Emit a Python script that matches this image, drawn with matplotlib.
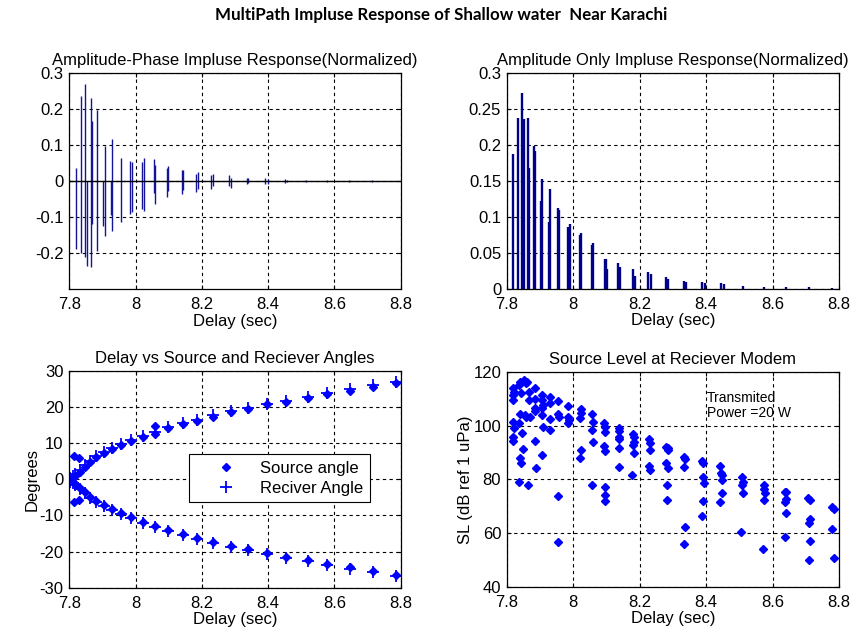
import numpy as np
import matplotlib
matplotlib.use('Agg')
import matplotlib.pyplot as plt

plt.rcParams['font.family'] = ['Liberation Sans', 'DejaVu Sans']
plt.rcParams['axes.unicode_minus'] = False

# Amplitude-phase impulse response: stem tops (positive / negative lobes)
ap_delay = [7.820, 7.836, 7.847, 7.852, 7.864, 7.867, 7.883, 7.903, 7.907, 7.926,
            7.929, 7.956, 7.984, 7.988, 8.020, 8.024, 8.055, 8.060, 8.094, 8.099,
            8.139, 8.142, 8.181, 8.187, 8.227, 8.234, 8.282, 8.288, 8.337, 8.340,
            8.392, 8.399, 8.452, 8.456, 8.513, 8.577, 8.645, 8.713]
ap_pos = [0.037, 0.238, 0.271, 0.0, 0.232, 0.167, 0.198, 0.0, 0.097, 0.0,
          0.116, 0.064, 0.055, 0.053, 0.052, 0.064, 0.061, 0.046, 0.037, 0.043,
          0.030, 0.031, 0.019, 0.025, 0.016, 0.021, 0.016, 0.010, 0.009, 0.008,
          0.009, 0.006, 0.006, 0.004, 0.004, 0.003, 0.003, 0.003]
ap_neg = [-0.190, -0.199, -0.210, -0.237, -0.239, -0.118, -0.194, -0.124, -0.153, -0.093,
          -0.139, -0.114, -0.090, -0.086, -0.078, -0.082, -0.032, -0.063, -0.044, -0.028,
          -0.037, -0.024, -0.029, -0.021, -0.021, -0.014, -0.014, -0.018, -0.009, -0.006,
          -0.009, -0.009, -0.004, -0.003, -0.002, -0.002, -0.002, -0.002]

# Amplitude only impulse response
ao_delay = [7.820, 7.835, 7.847, 7.851, 7.863, 7.866, 7.883, 7.886, 7.902, 7.906,
            7.926, 7.929, 7.953, 7.956, 7.985, 7.989, 8.020, 8.024, 8.056, 8.059,
            8.095, 8.099, 8.101, 8.136, 8.140, 8.179, 8.186, 8.226, 8.233, 8.278,
            8.286, 8.333, 8.339, 8.389, 8.397, 8.445, 8.454, 8.511, 8.574, 8.641,
            8.711, 8.780]
ao_amp = [0.188, 0.237, 0.272, 0.236, 0.237, 0.168, 0.199, 0.192, 0.122, 0.152,
          0.093, 0.138, 0.112, 0.110, 0.086, 0.090, 0.074, 0.078, 0.061, 0.063,
          0.042, 0.041, 0.028, 0.036, 0.030, 0.027, 0.018, 0.023, 0.020, 0.016,
          0.014, 0.011, 0.010, 0.009, 0.008, 0.0074, 0.006, 0.004, 0.003, 0.0025,
          0.0025, 0.0012]

# Source / receiver angles per arrival cluster
ang_delay = [7.803, 7.810, 7.818, 7.832, 7.847, 7.862, 7.882, 7.906, 7.928, 7.956,
             7.986, 8.022, 8.059, 8.097, 8.142, 8.184, 8.235, 8.287, 8.339, 8.396,
             8.455, 8.520, 8.579, 8.647, 8.716, 8.787]
src_up = [0.2, 0.6, 1.0, 2.1, 3.5, 4.9, 6.3, 7.2, 8.3, 9.5,
          10.6, 11.6, 12.6, 14.1, 15.2, 16.2, 17.4, 18.6, 19.5, 20.8,
          21.5, 22.4, 23.5, 24.6, 25.7, 26.6]
rcv_up = [0.5, 0.9, 1.4, 2.5, 3.9, 5.2, 6.6, 7.5, 8.6, 9.8,
          10.9, 12.0, 13.0, 14.4, 15.5, 16.5, 17.7, 18.9, 19.8, 21.0,
          21.8, 22.7, 23.8, 24.9, 26.0, 26.9]
src_dn = [-0.3, -0.7, -1.2, -2.4, -3.6, -4.8, -5.9, -7.1, -8.2, -9.4,
          -10.5, -11.7, -12.8, -14.0, -15.0, -16.3, -17.3, -18.4, -19.4, -20.5,
          -21.6, -22.3, -23.4, -24.4, -25.3, -26.5]
rcv_dn = [-0.6, -1.0, -1.5, -2.7, -3.9, -5.1, -6.2, -7.4, -8.5, -9.7,
          -10.8, -12.0, -13.1, -14.3, -15.3, -16.6, -17.6, -18.7, -19.7, -20.8,
          -21.9, -22.6, -23.7, -24.7, -25.6, -26.8]
src_extra_delay = [7.815, 7.830, 7.815, 7.830, 8.059]
src_extra_angle = [6.4, 5.8, -6.2, -5.8, 14.9]

# Source level at receiver
sl_delay = [7.818, 7.822, 7.820, 7.818, 7.819, 7.822, 7.820, 7.820,
            7.840, 7.838, 7.842, 7.840, 7.838, 7.840, 7.842, 7.838, 7.847, 7.850,
            7.853, 7.857, 7.860, 7.855, 7.865, 7.858,
            7.867, 7.868, 7.870,
            7.884, 7.886, 7.885, 7.886, 7.885, 7.887,
            7.906, 7.907, 7.908, 7.906, 7.907, 7.908, 7.906,
            7.930, 7.931, 7.930, 7.931,
            7.955, 7.955, 7.956, 7.955, 7.953,
            7.984, 7.985, 7.986, 7.985,
            8.023, 8.024, 8.022, 8.025, 8.022,
            8.058, 8.059, 8.058, 8.059, 8.058,
            8.093, 8.095, 8.096, 8.094, 8.095, 8.095, 8.095, 8.095,
            8.137, 8.139, 8.138, 8.137, 8.139, 8.137,
            8.180, 8.183, 8.182, 8.181, 8.184, 8.178,
            8.227, 8.230, 8.231, 8.228, 8.230,
            8.280, 8.284, 8.286, 8.278, 8.285, 8.281, 8.283,
            8.333, 8.336, 8.335, 8.337, 8.333,
            8.388, 8.392, 8.390, 8.393, 8.390, 8.389,
            8.443, 8.445, 8.447, 8.448, 8.447, 8.443,
            8.507, 8.510, 8.509, 8.511, 8.506,
            8.574, 8.575, 8.576, 8.574, 8.570,
            8.637, 8.641, 8.640, 8.639, 8.640, 8.636,
            8.708, 8.713, 8.714, 8.709, 8.712, 8.709,
            8.780, 8.785, 8.779, 8.786]
sl_db = [113.9, 112.7, 111.4, 109.6, 101.5, 99.0, 95.9, 94.3,
         116.4, 115.2, 112.3, 104.3, 100.9, 87.8, 86.2, 79.1, 97.1, 91.3,
         117.0, 115.8, 116.2, 104.0, 77.9, 103.2,
         112.7, 109.6, 103.4,
         113.9, 109.8, 106.5, 105.6, 94.3, 84.1,
         111.4, 109.6, 107.7, 106.5, 104.0, 99.6, 89.1,
         110.8, 108.6, 102.4, 98.4,
         109.3, 104.3, 103.4, 73.8, 56.8,
         107.3, 103.4, 102.1, 100.9,
         106.1, 104.6, 102.7, 90.9, 87.8,
         104.3, 101.5, 98.4, 94.0, 77.9,
         101.1, 99.6, 97.8, 92.4, 90.7, 77.0, 74.0, 71.9,
         99.0, 98.1, 95.9, 94.9, 91.8, 84.7,
         96.8, 95.8, 94.0, 92.8, 89.7, 81.6,
         94.9, 93.7, 90.9, 85.0, 83.5,
         91.9, 90.9, 91.5, 86.2, 84.1, 77.9, 72.3,
         88.4, 87.6, 84.5, 62.4, 55.9,
         87.0, 86.2, 80.7, 78.5, 72.0, 66.5,
         85.0, 82.2, 81.5, 79.8, 74.8, 71.4,
         80.7, 79.1, 77.9, 74.8, 60.5,
         77.9, 76.3, 74.8, 72.3, 53.9,
         75.4, 75.4, 72.5, 71.7, 67.3, 58.6,
         72.9, 72.3, 65.2, 63.6, 57.1, 49.9,
         69.8, 68.9, 61.5, 50.7]

FS = 12
grid_kw = dict(color='black', linestyle=(0, (3, 3)), linewidth=0.8)


def style_axis(ax):
    ax.set_xlim(7.8, 8.8)
    ax.set_xticks([7.8, 8.0, 8.2, 8.4, 8.6, 8.8])
    ax.set_xticklabels(['7.8', '8', '8.2', '8.4', '8.6', '8.8'])
    ax.grid(True, **grid_kw)
    ax.set_axisbelow(True)
    ax.tick_params(direction='in', top=True, right=True, length=3,
                   labelsize=FS, pad=4, width=0.8)
    ax.tick_params(axis='x', pad=6)
    for sp in ax.spines.values():
        sp.set_linewidth(0.9)
    ax.set_xlabel('Delay (sec)', fontsize=FS, labelpad=1)


fig = plt.figure(figsize=(8.51, 6.28), dpi=100)
W, H = 851.0, 628.0


def add_axes(l, r, t, b):
    return fig.add_axes([l / W, 1 - b / H, (r - l) / W, (b - t) / H])


ax1 = add_axes(69.3, 400.7, 73.3, 289.0)
ax2 = add_axes(506.7, 839.0, 73.0, 288.7)
ax3 = add_axes(69.3, 400.7, 371.0, 587.7)
ax4 = add_axes(506.7, 839.0, 372.0, 586.7)

# top left
ax1.vlines(ap_delay, 0, ap_pos, color='#14149a', linewidth=1.0)
ax1.vlines(ap_delay, 0, ap_neg, color='#14149a', linewidth=1.0)
ax1.axhline(0, color='black', linewidth=1.0)
style_axis(ax1)
ax1.set_ylim(-0.3, 0.3)
ax1.set_yticks([-0.2, -0.1, 0, 0.1, 0.2, 0.3])
ax1.set_yticklabels(['-0.2', '-0.1', '0', '0.1', '0.2', '0.3'])
ax1.set_title('Amplitude-Phase Impluse Response(Normalized)', fontsize=FS, pad=6)

# top right
ax2.vlines(ao_delay, 0, ao_amp, color='#000088', linewidth=1.7)
style_axis(ax2)
ax2.set_ylim(0, 0.3)
ax2.set_yticks([0, 0.05, 0.1, 0.15, 0.2, 0.25, 0.3])
ax2.set_yticklabels(['0', '0.05', '0.1', '0.15', '0.2', '0.25', '0.3'])
ax2.set_title('Amplitude Only Impluse Response(Normalized)', fontsize=FS, pad=6)

# bottom left
src_kw = dict(linestyle='none', marker='D', markersize=3.8, color='blue')
rcv_kw = dict(linestyle='none', marker='+', markersize=8, markeredgewidth=1.3, color='blue')
ax3.plot(ang_delay + src_extra_delay, src_up + src_extra_angle, label='Source angle', **src_kw)
ax3.plot(ang_delay, src_dn, **src_kw)
ax3.plot(ang_delay, rcv_up, label='Reciver Angle', **rcv_kw)
ax3.plot(ang_delay, rcv_dn, **rcv_kw)
style_axis(ax3)
ax3.set_ylim(-30, 30)
ax3.set_yticks(np.arange(-30, 31, 10))
ax3.set_ylabel('Degrees', fontsize=FS, labelpad=0)
ax3.set_title('Delay vs Source and Reciever Angles', fontsize=FS, pad=6)
leg = ax3.legend(loc='upper left', bbox_to_anchor=(0.361, 0.617), borderaxespad=0,
                 fontsize=FS, fancybox=False, edgecolor='black', framealpha=1,
                 handlelength=3.7, handletextpad=0.15, borderpad=0.4, labelspacing=0.3)
leg.get_frame().set_linewidth(0.8)

# bottom right
ax4.plot(sl_delay, sl_db, **src_kw)
style_axis(ax4)
ax4.set_ylim(40, 120)
ax4.set_yticks([40, 60, 80, 100, 120])
ax4.set_ylabel('SL (dB ref 1 uPa)', fontsize=FS, labelpad=0)
ax4.set_title('Source Level at Reciever Modem', fontsize=FS, pad=6)
ax4.text(8.402, 107.4, 'Transmited\nPower =20 W', fontsize=10, va='center', ha='left',
         linespacing=1.1)

fig.text(0.518, 0.976, 'MultiPath Impluse Response of Shallow water  Near Karachi',
         ha='center', va='center', fontsize=12.2, fontweight='bold',
         family=['Lato', 'DejaVu Sans'])

fig.savefig('out.png', dpi=100)
